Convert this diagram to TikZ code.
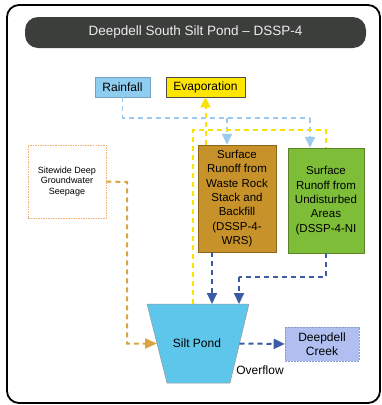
\documentclass[tikz,border=0pt]{standalone}
\usepackage{fontspec}
\setmainfont{Liberation Sans}
\usetikzlibrary{arrows.meta,calc}
\definecolor{titlebg}{HTML}{3C3E3C}
\definecolor{rainfill}{HTML}{8FCDF0}
\definecolor{evapfill}{HTML}{FFE600}
\definecolor{wrsfill}{HTML}{C8922A}
\definecolor{nifill}{HTML}{7DBD38}
\definecolor{sitebd}{HTML}{F0B070}
\definecolor{pondfill}{HTML}{5EC6EA}
\definecolor{creekfill}{HTML}{B0BFF0}
\definecolor{darkblue}{HTML}{3B5BA5}
\definecolor{lightblue}{HTML}{9CCAF0}
\definecolor{yelline}{HTML}{F8E400}
\definecolor{orangeline}{HTML}{D9A441}
\begin{document}
\begin{tikzpicture}[x=1pt,y=-1pt,
  every node/.style={inner sep=0pt},
  txt/.style={font=\fontsize{12}{14}\selectfont},
  boxtxt/.style={font=\fontsize{11.5}{14.3}\selectfont,align=center},
  flowbox/.style={draw,line width=0.5pt},
  bluearrow/.style={draw=darkblue,line width=2pt,dash pattern=on 5pt off 4pt,-{Triangle[length=11pt,width=10pt]}},
  blueline/.style={draw=darkblue,line width=2pt,dash pattern=on 5pt off 4pt},
  lbline/.style={draw=lightblue,line width=1.8pt,dash pattern=on 5pt off 4pt},
  lbarrow/.style={lbline,-{Triangle[length=11pt,width=10pt]}},
  yline/.style={draw=yelline,line width=2pt,dash pattern=on 5pt off 4pt},
  yarrow/.style={yline,-{Triangle[length=10pt,width=10pt]}},
  oline/.style={draw=orangeline,line width=2pt,dash pattern=on 5pt off 4pt,-{Triangle[length=12pt,width=10pt]}}
]
\useasboundingbox (0,0) rectangle (382,405);
% frame
\draw[line width=1.8pt,rounded corners=12pt] (7,5) rectangle (380,403);
% title
\node[fill=titlebg,rounded corners=13pt,minimum width=341pt,minimum height=31pt,
      text=white!92!black,font=\fontsize{13.5}{16}\selectfont] (title) at (195.5,32.5) {Deepdell South Silt Pond -- DSSP-4};
% nodes
\node[flowbox,draw=rainfill!80!black,fill=rainfill,minimum width=55pt,minimum height=20pt,txt] (rain) at (122.5,87) {Rainfall};
\node[flowbox,draw=black!70,fill=evapfill,minimum width=79pt,minimum height=20pt,txt] (evap) at (205.5,87) {Evaporation};
\node[flowbox,draw=wrsfill!70!black,fill=wrsfill,minimum width=78pt,minimum height=107pt,boxtxt] (wrs) at (237,198.5)
  {Surface\\Runoff from\\Waste Rock\\Stack and\\Backfill\\(DSSP-4-\\WRS)};
\node[flowbox,draw=nifill!70!black,fill=nifill,minimum width=76pt,minimum height=105pt,boxtxt] (ni) at (326,200.5)
  {Surface\\Runoff from\\Undisturbed\\Areas\\(DSSP-4-NI};
\node[draw=sitebd,line width=0.8pt,dash pattern=on 1.5pt off 1pt,minimum width=78pt,minimum height=73pt,
      font=\fontsize{9}{10.7}\selectfont,align=center] (site) at (67,181.5) {Sitewide Deep\\Groundwater\\Seepage};
\node[draw=darkblue!60,line width=0.6pt,dash pattern=on 2pt off 1pt,fill=creekfill,minimum width=74pt,minimum height=34pt,
      boxtxt,font=\fontsize{12}{14}\selectfont] (creek) at (322,344) {Deepdell\\Creek};
% pond
\coordinate (p1) at (147,304);
\coordinate (p2) at (249,304);
\coordinate (p3) at (230,383);
\coordinate (p4) at (167,383);
\draw[fill=pondfill,draw=black!40,line width=0.5pt] (p1) -- (p2) -- (p3) -- (p4) -- cycle;
\node[txt] (pond) at (197,343) {Silt Pond};
\coordinate (pondW) at ($(p1)!0.5!(p4)$);
\coordinate (pondE) at ($(p2)!0.5!(p3)$);
\node[txt] (overflow) at (260,370) {Overflow};
% rainfall lines
\coordinate (rjR) at (310,118);
\coordinate (rjW) at (227,118);
\draw[lbline] (rain.south) |- (rjR);
\draw[lbarrow] (rjR) -- (rjR |- ni.north);
\draw[lbarrow] (rjW) -- (rjW |- wrs.north);
% evaporation lines
\coordinate (yc) at (193,130);
\draw[yline] (yc |- p1) -- (yc) -| (ni.north);
\draw[yarrow] (wrs.north -| evap.south) -- (evap.south);
% blue runoff arrows
\coordinate (bx) at (212,252);
\draw[bluearrow] (wrs.south -| bx) -- (bx |- p1);
\coordinate (bj) at (239,277);
\draw[blueline] (ni.south) |- (bj);
\draw[bluearrow] (bj) -- (bj |- p1);
% groundwater
\coordinate (oj) at (127,182);
\draw[oline] (site.east) -- (oj) |- (pondW);
% overflow
\draw[bluearrow] (pondE) -- (creek.west);
\end{tikzpicture}
\end{document}
